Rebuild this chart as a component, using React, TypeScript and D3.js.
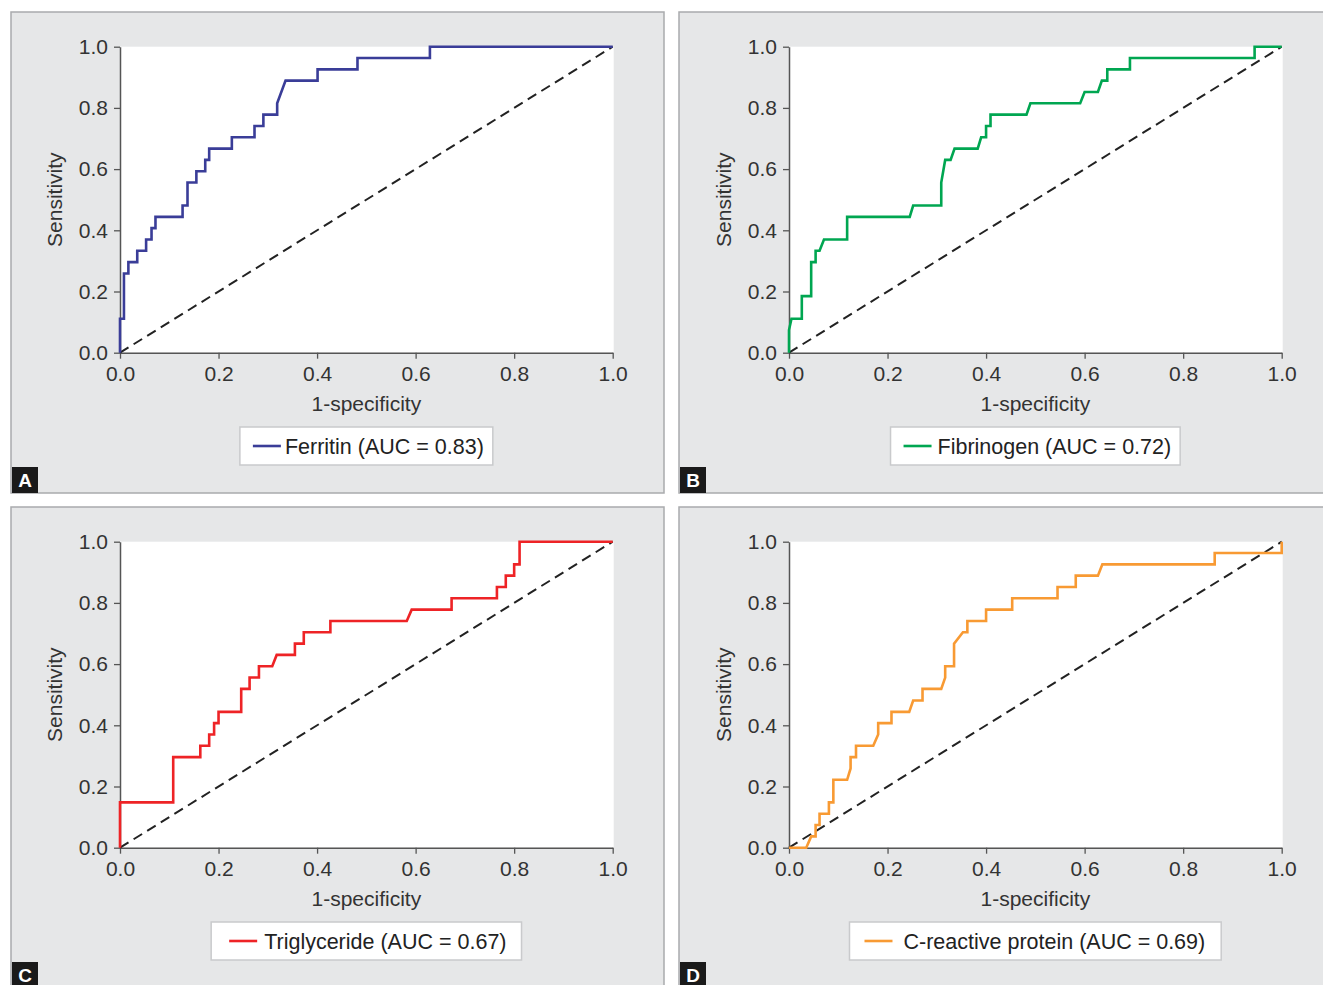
import React, { useEffect, useRef } from "react";
import * as d3 from "d3";

// ROC curve vertices [1-specificity, sensitivity]
const ferritinRoc: [number, number][] = [
  [0, 0], [0, 0.111], [0.008, 0.111], [0.008, 0.259], [0.017, 0.259], [0.017, 0.296],
  [0.035, 0.296], [0.035, 0.333], [0.053, 0.333], [0.053, 0.37], [0.064, 0.37], [0.064, 0.407],
  [0.072, 0.407], [0.072, 0.444], [0.127, 0.444], [0.127, 0.481], [0.137, 0.481], [0.137, 0.556],
  [0.155, 0.556], [0.155, 0.593], [0.173, 0.593], [0.173, 0.63], [0.181, 0.63], [0.181, 0.667],
  [0.227, 0.667], [0.227, 0.704], [0.273, 0.704], [0.273, 0.741], [0.291, 0.741], [0.291, 0.778],
  [0.319, 0.778], [0.319, 0.815], [0.336, 0.889], [0.401, 0.889], [0.401, 0.926], [0.482, 0.926],
  [0.482, 0.963], [0.629, 0.963], [0.629, 1], [1, 1],
];

const fibrinogenRoc: [number, number][] = [
  [0, 0], [0, 0.074], [0.005, 0.111], [0.026, 0.111], [0.026, 0.185], [0.045, 0.185],
  [0.045, 0.296], [0.054, 0.296], [0.054, 0.333], [0.062, 0.333], [0.071, 0.37], [0.118, 0.37],
  [0.118, 0.444], [0.245, 0.444], [0.252, 0.481], [0.309, 0.481], [0.309, 0.556], [0.317, 0.63],
  [0.328, 0.63], [0.336, 0.667], [0.383, 0.667], [0.39, 0.704], [0.4, 0.704], [0.4, 0.741],
  [0.409, 0.741], [0.409, 0.778], [0.482, 0.778], [0.49, 0.815], [0.591, 0.815], [0.6, 0.852],
  [0.627, 0.852], [0.635, 0.889], [0.646, 0.889], [0.646, 0.926], [0.692, 0.926], [0.692, 0.963],
  [0.945, 0.963], [0.945, 1], [1, 1],
];

const triglycerideRoc: [number, number][] = [
  [0, 0], [0, 0.148], [0.108, 0.148], [0.108, 0.296], [0.163, 0.296], [0.163, 0.333],
  [0.181, 0.333], [0.181, 0.37], [0.191, 0.37], [0.191, 0.407], [0.2, 0.407], [0.2, 0.444],
  [0.246, 0.444], [0.246, 0.519], [0.263, 0.519], [0.263, 0.556], [0.282, 0.556], [0.282, 0.593],
  [0.309, 0.593], [0.318, 0.63], [0.355, 0.63], [0.355, 0.667], [0.373, 0.667], [0.373, 0.704],
  [0.427, 0.704], [0.427, 0.741], [0.582, 0.741], [0.592, 0.778], [0.673, 0.778], [0.673, 0.815],
  [0.765, 0.815], [0.765, 0.852], [0.783, 0.852], [0.783, 0.889], [0.8, 0.889], [0.8, 0.926],
  [0.811, 0.926], [0.811, 1], [1, 1],
];

const crpRoc: [number, number][] = [
  [0, 0], [0.035, 0], [0.045, 0.037], [0.054, 0.037], [0.054, 0.074], [0.062, 0.074],
  [0.062, 0.111], [0.081, 0.111], [0.081, 0.148], [0.09, 0.148], [0.09, 0.222], [0.118, 0.222],
  [0.125, 0.259], [0.125, 0.296], [0.136, 0.296], [0.136, 0.333], [0.171, 0.333], [0.181, 0.37],
  [0.181, 0.407], [0.208, 0.407], [0.208, 0.444], [0.244, 0.444], [0.252, 0.481], [0.271, 0.481],
  [0.271, 0.519], [0.309, 0.519], [0.317, 0.556], [0.317, 0.593], [0.335, 0.593], [0.335, 0.667],
  [0.353, 0.704], [0.362, 0.704], [0.362, 0.741], [0.4, 0.741], [0.4, 0.778], [0.453, 0.778],
  [0.453, 0.815], [0.545, 0.815], [0.545, 0.852], [0.582, 0.852], [0.582, 0.889], [0.627, 0.889],
  [0.636, 0.926], [0.864, 0.926], [0.864, 0.963], [1, 0.963], [1, 1],
];

const ticks = [0, 0.2, 0.4, 0.6, 0.8, 1.0];
const legendLabels = [
  "Ferritin (AUC = 0.83)",
  "Fibrinogen (AUC = 0.72)",
  "Triglyceride (AUC = 0.67)",
  "C-reactive protein (AUC = 0.69)",
];
const panelLetters = ["A", "B", "C", "D"];
const xTitle = "1-specificity";
const yTitle = "Sensitivity";

const FONT = "'Liberation Sans', Arial, Helvetica, sans-serif";

export default function App() {
  const svgRef = useRef<SVGSVGElement>(null);

  useEffect(() => {
    const W = 1323, H = 985;
    const svg = d3.select(svgRef.current);
    svg.selectAll("*").remove();
    svg.attr("width", W).attr("height", H);

    svg.append("rect").attr("width", W).attr("height", H).attr("fill", "#ffffff");

    const series = [ferritinRoc, fibrinogenRoc, triglycerideRoc, crpRoc];
    const colors = ["#3a3d98", "#00a651", "#ee2326", "#f89a33"];
    // frame origin, plot left edge, legend paddings (each legend box is sized a bit differently)
    const frames = [
      { fx: 11, fy: 12, px: 120, padL: 13, gap: 4, padR: 9 },
      { fx: 679, fy: 12, px: 789, padL: 13, gap: 6, padR: 9 },
      { fx: 11, fy: 507, px: 120, padL: 18, gap: 7, padR: 15 },
      { fx: 679, fy: 507, px: 789, padL: 15, gap: 11, padR: 16 },
    ];
    const frameW = 653, frameH = 481;
    const plotW = 492.7;
    const plotTop = 34.7, plotBottom = 340.7;

    series.forEach((data, i) => {
      const { fx, fy, px, padL, gap, padR } = frames[i];

      // Panel frame
      svg.append("rect")
        .attr("x", fx).attr("y", fy)
        .attr("width", frameW).attr("height", frameH)
        .attr("fill", "#e6e7e8")
        .attr("stroke", "#a9abad")
        .attr("stroke-width", 1.5);

      const x = d3.scaleLinear().domain([0, 1]).range([px, px + plotW]);
      const y = d3.scaleLinear().domain([0, 1]).range([fy + plotBottom, fy + plotTop]);

      // White plotting area
      svg.append("rect")
        .attr("x", x(0)).attr("y", y(1))
        .attr("width", x(1) - x(0) + 1).attr("height", y(0) - y(1))
        .attr("fill", "#ffffff");

      // Axes
      const xAxis = svg.append("g")
        .attr("transform", `translate(0,${y(0)})`)
        .call(d3.axisBottom(x).tickValues(ticks).tickFormat(d3.format(".1f")).tickSize(6).tickSizeOuter(0).tickPadding(7));
      const yAxis = svg.append("g")
        .attr("transform", `translate(${x(0)},0)`)
        .call(d3.axisLeft(y).tickValues(ticks).tickFormat(d3.format(".1f")).tickSize(6).tickSizeOuter(0).tickPadding(6));
      [xAxis, yAxis].forEach(g => {
        g.select(".domain").attr("stroke", "#555").attr("stroke-width", 1.5);
        g.selectAll(".tick line").attr("stroke", "#555").attr("stroke-width", 1.3);
        g.selectAll(".tick text")
          .attr("fill", "#333")
          .style("font-family", FONT)
          .style("font-size", "21px");
      });

      // Axis titles
      svg.append("text")
        .attr("x", (x(0) + x(1)) / 2)
        .attr("y", fy + 399)
        .attr("text-anchor", "middle")
        .attr("fill", "#333")
        .style("font-family", FONT)
        .style("font-size", "21px")
        .text(xTitle);

      svg.append("text")
        .attr("transform", `translate(${px - 58},${(y(0) + y(1)) / 2}) rotate(-90)`)
        .attr("text-anchor", "middle")
        .attr("fill", "#333")
        .style("font-family", FONT)
        .style("font-size", "21px")
        .text(yTitle);

      // Reference diagonal
      const line = d3.line<[number, number]>().x(d => x(d[0])).y(d => y(d[1]));
      svg.append("path")
        .datum([[0, 0], [1, 1]] as [number, number][])
        .attr("fill", "none")
        .attr("stroke", "#222")
        .attr("stroke-width", 2)
        .attr("stroke-dasharray", "10,6")
        .attr("d", line);

      // ROC curve
      svg.append("path")
        .datum(data)
        .attr("fill", "none")
        .attr("stroke", colors[i])
        .attr("stroke-width", 2.6)
        .attr("stroke-linejoin", "miter")
        .attr("d", line);

      // Legend
      const legendCx = (x(0) + x(1)) / 2;
      const legendCy = fy + 434;
      const lg = svg.append("g");
      const label = lg.append("text")
        .attr("fill", "#222")
        .style("font-family", FONT)
        .style("font-size", "21.5px")
        .text(legendLabels[i]);
      const textW = (label.node() as SVGTextElement).getComputedTextLength();
      const lineLen = 28;
      const boxW = padL + lineLen + gap + textW + padR;
      const boxX = legendCx - boxW / 2;
      lg.insert("rect", "text")
        .attr("x", boxX).attr("y", legendCy - 19)
        .attr("width", boxW).attr("height", 38)
        .attr("fill", "#ffffff")
        .attr("stroke", "#c9cacc")
        .attr("stroke-width", 1.5);
      lg.append("line")
        .attr("x1", boxX + padL).attr("x2", boxX + padL + lineLen)
        .attr("y1", legendCy).attr("y2", legendCy)
        .attr("stroke", colors[i])
        .attr("stroke-width", 2.6);
      label.attr("x", boxX + padL + lineLen + gap).attr("y", legendCy + 7.5);

      // Panel letter
      svg.append("rect")
        .attr("x", fx + 1).attr("y", fy + frameH - 26)
        .attr("width", 26).attr("height", 26)
        .attr("fill", "#1a1a1a");
      svg.append("text")
        .attr("x", fx + 14).attr("y", fy + frameH - 6)
        .attr("text-anchor", "middle")
        .attr("fill", "#ffffff")
        .style("font-family", FONT)
        .style("font-weight", "bold")
        .style("font-size", "19px")
        .text(panelLetters[i]);
    });
  }, []);

  return (
    <div style={{ position: "fixed", left: 0, top: 0, width: 1323, height: 985, overflow: "hidden" }}>
      <svg ref={svgRef} style={{ display: "block" }}></svg>
    </div>
  );
}
